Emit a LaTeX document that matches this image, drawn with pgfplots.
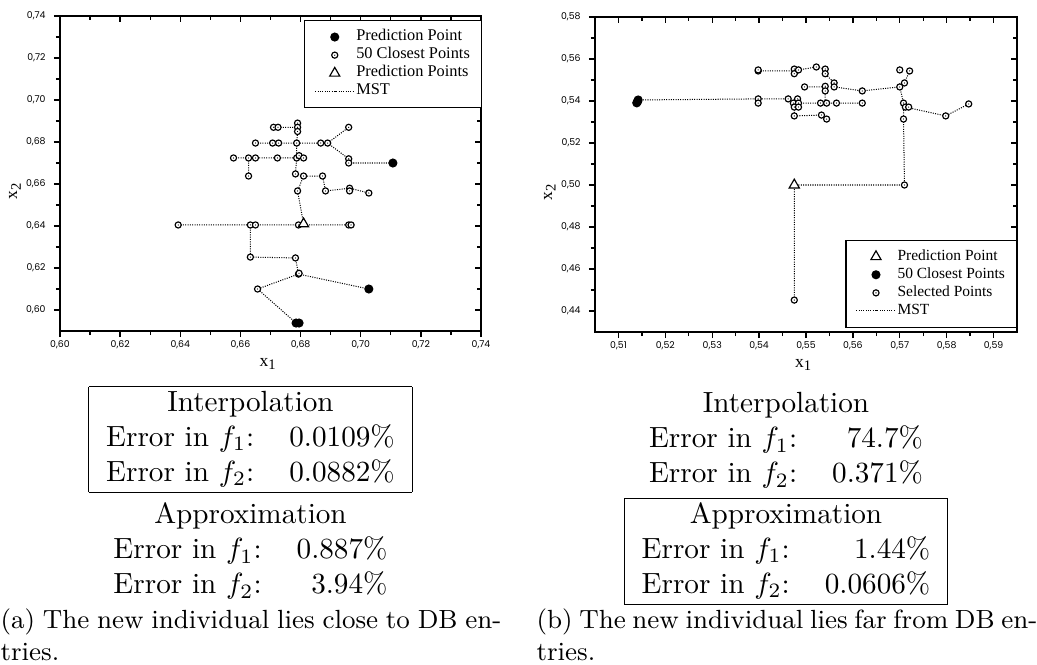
\documentclass[border=0pt]{standalone}
\usepackage{pgfplots}
\pgfplotsset{compat=1.18}
\usepackage{fontspec}
\newfontfamily\tk{Poppins}
\newfontfamily\tms{Liberation Serif}

% open circle with a dot in the middle
\pgfdeclareplotmark{odot}{%
  \pgfpathcircle{\pgfpointorigin}{\pgfplotmarksize}%
  \pgfusepathqfillstroke
  \begin{pgfscope}%
  \pgfsetfillcolor{black}%
  \pgfpathcircle{\pgfpointorigin}{0.22pt}%
  \pgfusepathqfill
  \end{pgfscope}}

\pgfplotsset{
  legend image code/.code={\draw[mark repeat=2,mark phase=2,#1] plot coordinates {(0pt,0pt) (6.7pt,0pt) (13.4pt,0pt)};},
  panel/.style={
    scale only axis, height=107.88pt, anchor=north west,
    axis line style={line width=0.5pt},
    tick style={black, line width=0.45pt},
    major tick length=2.1pt, minor tick length=1.4pt,
    tick align=outside, xtick pos=left, ytick pos=left,
    tick label style={font=\tk\fontsize{3.2}{3.8}\selectfont},
    xticklabel style={yshift=2.4pt},
    yticklabel style={xshift=0.7pt},
    /pgf/number format/assume math mode=true,
    /pgf/number format/use comma,
    /pgf/number format/fixed,
    /pgf/number format/fixed zerofill,
    /pgf/number format/precision=2,
    xlabel={x\textsubscript{1}}, ylabel={x\textsubscript{2}},
    label style={font=\tms\fontsize{6}{7}\selectfont},
    xlabel style={at={(axis description cs:0.495,-0.105)}, anchor=center},
    ylabel style={at={(axis description cs:-0.107,0.445)}, anchor=center},
    legend style={draw=black, fill=white, inner xsep=3.4pt, inner ysep=2.5pt,
      nodes={inner xsep=0.5pt, inner ysep=0pt, text height=4.3pt, text depth=1.9pt},
      cells={anchor=west}},
  },
  inside/.style={panel, xtick pos=right, ytick pos=right, tick align=inside,
    xticklabels={}, yticklabels={}, xlabel={}, ylabel={}},
  mst/.style={black, line width=0.35pt, dash pattern=on 0.35pt off 0.45pt},
  opn/.style={black, only marks, mark=odot, mark size=1.05pt, mark options={fill=white, draw=black, line width=0.4pt, solid}},
  fil/.style={black, only marks, mark=*, mark size=1.35pt, mark options={fill=black}},
  tri/.style={black, only marks, mark=triangle*, mark size=2pt, mark options={fill=white, draw=black, line width=0.4pt, solid}},
}

\begin{document}
\begin{tikzpicture}
\useasboundingbox (0,0) rectangle (355.14pt,-227.40pt);

% ---------- left panel ----------
\begin{axis}[inside, at={(20.548pt,-5.480pt)}, width=144.18pt,
  xmin=0.60, xmax=0.74, ymin=0.59, ymax=0.74,
  xtick={0.60,0.62,0.64,0.66,0.68,0.70,0.72,0.74},
  minor xtick={0.61,0.63,0.65,0.67,0.69,0.71,0.73},
  ytick={0.60,0.62,0.64,0.66,0.68,0.70,0.72,0.74},
  minor ytick={0.61,0.63,0.65,0.67,0.69,0.71,0.73}]
\end{axis}
\begin{axis}[panel, at={(20.548pt,-5.480pt)}, width=144.18pt,
  xmin=0.60, xmax=0.74, ymin=0.59, ymax=0.74,
  xtick={0.60,0.62,0.64,0.66,0.68,0.70,0.72,0.74},
  minor xtick={0.61,0.63,0.65,0.67,0.69,0.71,0.73},
  ytick={0.60,0.62,0.64,0.66,0.68,0.70,0.72,0.74},
  minor ytick={0.61,0.63,0.65,0.67,0.69,0.71,0.73},
  legend style={at={(1.002,0.987)}, anchor=north east, font=\tms\fontsize{5.6}{6}\selectfont}]

\addplot[mst, forget plot] coordinates {
(0.6710,0.6870) (0.6725,0.6870) (0.6790,0.6870)

(0.6790,0.6890) (0.6790,0.6850) (0.6787,0.6795)

(0.6650,0.6795) (0.6890,0.6795) (0.6960,0.6870)

(0.6890,0.6795) (0.6960,0.6720) (0.6960,0.6700) (0.7107,0.6700)

(0.6787,0.6795) (0.6787,0.6724)

(0.6577,0.6724) (0.6810,0.6724)

(0.6627,0.6724) (0.6627,0.6638)

(0.6787,0.6724) (0.6783,0.6648) (0.6810,0.6638) (0.6873,0.6638) (0.6883,0.6567) (0.6963,0.6580) (0.7027,0.6557)

(0.6810,0.6638) (0.6790,0.6567) (0.6810,0.6410)

(0.6393,0.6405) (0.6968,0.6405)

(0.6633,0.6405) (0.6633,0.6252) (0.6783,0.6248) (0.6793,0.6171) (0.6657,0.6100) (0.6785,0.5938)

(0.6793,0.6171) (0.7027,0.6100)
};

\addplot[opn, forget plot] coordinates {
(0.6710,0.6870) (0.6725,0.6870) (0.6790,0.6890) (0.6790,0.6870) (0.6790,0.6850) (0.6960,0.6870)
(0.6650,0.6795) (0.6707,0.6795) (0.6727,0.6795) (0.6787,0.6795) (0.6867,0.6795) (0.6890,0.6795)
(0.6577,0.6724) (0.6627,0.6724) (0.6650,0.6724) (0.6723,0.6724) (0.6787,0.6724) (0.6795,0.6735) (0.6810,0.6724)
(0.6960,0.6720) (0.6960,0.6700)
(0.6627,0.6638) (0.6783,0.6648) (0.6810,0.6638) (0.6873,0.6638)
(0.6790,0.6567) (0.6883,0.6567) (0.6963,0.6580) (0.6963,0.6567) (0.7027,0.6557)
(0.6393,0.6405) (0.6633,0.6405) (0.6650,0.6405) (0.6793,0.6405) (0.6960,0.6405) (0.6968,0.6405)
(0.6633,0.6252) (0.6783,0.6248) (0.6793,0.6171) (0.6795,0.6175) (0.6657,0.6100)
};

\addplot[fil, forget plot] coordinates {
(0.7107,0.6700) (0.7027,0.6100) (0.6785,0.5938) (0.6795,0.5938)
};

\addplot[tri, forget plot] coordinates {(0.6810,0.6410)};

\addlegendimage{fil}
\addlegendimage{opn}
\addlegendimage{tri}
\addlegendimage{mst}
\legend{{\makebox[38pt][l]{Prediction Point}},{50 Closest Points},{Prediction Points},{MST}}
\end{axis}

% ---------- right panel ----------
\begin{axis}[inside, at={(203.77pt,-5.822pt)}, width=144.52pt,
  xmin=0.505, xmax=0.595, ymin=0.43, ymax=0.58,
  xtick={0.51,0.52,0.53,0.54,0.55,0.56,0.57,0.58,0.59},
  minor xtick={0.515,0.525,0.535,0.545,0.555,0.565,0.575,0.585},
  ytick={0.44,0.46,0.48,0.50,0.52,0.54,0.56,0.58},
  minor ytick={0.45,0.47,0.49,0.51,0.53,0.55,0.57}]
\end{axis}
\begin{axis}[panel, at={(203.77pt,-5.822pt)}, width=144.52pt,
  xmin=0.505, xmax=0.595, ymin=0.43, ymax=0.58,
  xtick={0.51,0.52,0.53,0.54,0.55,0.56,0.57,0.58,0.59},
  minor xtick={0.515,0.525,0.535,0.545,0.555,0.565,0.575,0.585},
  ytick={0.44,0.46,0.48,0.50,0.52,0.54,0.56,0.58},
  minor ytick={0.45,0.47,0.49,0.51,0.53,0.55,0.57},
  legend style={at={(1,0.013)}, anchor=south east, font=\tms\fontsize{5.3}{6}\selectfont}]

\addplot[mst, forget plot] coordinates {
(0.5142,0.5405) (0.5398,0.5410) (0.5462,0.5410)

(0.5398,0.5543) (0.5475,0.5543)

(0.5484,0.5548) (0.5522,0.5562) (0.5541,0.5552) (0.5541,0.5530) (0.5560,0.5486)

(0.5497,0.5467) (0.5541,0.5467) (0.5541,0.5390)

(0.5560,0.5467) (0.5620,0.5448) (0.5700,0.5467) (0.5710,0.5486) (0.5721,0.5543)

(0.5700,0.5467) (0.5708,0.5390)

(0.5484,0.5390) (0.5620,0.5390)

(0.5475,0.5371) (0.5475,0.5329) (0.5533,0.5333) (0.5544,0.5314)

(0.5712,0.5371) (0.5798,0.5329) (0.5847,0.5386)

(0.5708,0.5390) (0.5708,0.5314) (0.5710,0.5000) (0.5475,0.5000) (0.5475,0.4452)
};

\addplot[opn, forget plot] coordinates {
(0.5398,0.5543) (0.5398,0.5548) (0.5475,0.5552) (0.5475,0.5530) (0.5484,0.5548) (0.5522,0.5562) (0.5541,0.5552) (0.5541,0.5530)
(0.5497,0.5467) (0.5541,0.5470) (0.5541,0.5448) (0.5560,0.5486) (0.5560,0.5467) (0.5620,0.5448)
(0.5700,0.5548) (0.5721,0.5543) (0.5710,0.5486) (0.5700,0.5467)
(0.5398,0.5410) (0.5398,0.5390) (0.5462,0.5410) (0.5482,0.5410) (0.5473,0.5390) (0.5484,0.5390) (0.5475,0.5371) (0.5484,0.5371)
(0.5531,0.5390) (0.5544,0.5390) (0.5565,0.5390) (0.5620,0.5390)
(0.5708,0.5390) (0.5712,0.5371) (0.5719,0.5371) (0.5798,0.5329) (0.5847,0.5386)
(0.5475,0.5329) (0.5533,0.5333) (0.5544,0.5314) (0.5708,0.5314) (0.5710,0.5000) (0.5475,0.4452)
};

\addplot[fil, forget plot] coordinates {
(0.5142,0.5405) (0.5141,0.5398) (0.5139,0.5391)
};

\addplot[tri, forget plot] coordinates {(0.5475,0.5000)};

\addlegendimage{tri}
\addlegendimage{fil}
\addlegendimage{opn}
\addlegendimage{mst}
\legend{{\makebox[34pt][l]{Prediction Point}},{50 Closest Points},{Selected Points},{MST}}
\end{axis}

% ---------- error tables and captions ----------
\begin{scope}[x=0.34247pt, y=-0.34247pt]
\node[anchor=north, inner sep=0pt] at (250.5,385) {%
\begin{tabular}{|lr|}\hline
\multicolumn{2}{|c|}{Interpolation}\\
Error in $f_1$: & 0.0109\%\\
Error in $f_2$: & 0.0882\%\\ \hline
\end{tabular}};
\node[anchor=north, inner sep=0pt] at (250.5,498.5) {%
\begin{tabular}{lr}
\multicolumn{2}{c}{Approximation}\\
Error in $f_1$: & 0.887\%\\
Error in $f_2$: & 3.94\%
\end{tabular}};
\node[anchor=north, inner sep=0pt] at (786,387.5) {%
\begin{tabular}{lr}
\multicolumn{2}{c}{Interpolation}\\
Error in $f_1$: & 74.7\%\\
Error in $f_2$: & 0.371\%
\end{tabular}};
\node[anchor=north, inner sep=0pt] at (786,497) {%
\begin{tabular}{|lr|}\hline
\multicolumn{2}{|c|}{Approximation}\\
Error in $f_1$: & 1.44\%\\
Error in $f_2$: & 0.0606\%\\ \hline
\end{tabular}};
\node[anchor=base west, inner sep=0pt] at (0,628) {\parbox[t]{171.5pt}{\small (a) The new individual lies close to DB en-\linebreak tries.}};
\node[anchor=base west, inner sep=0pt] at (536,628) {\parbox[t]{171.5pt}{\small (b) The new individual lies far from DB en-\linebreak tries.}};
\end{scope}
\end{tikzpicture}
\end{document}
